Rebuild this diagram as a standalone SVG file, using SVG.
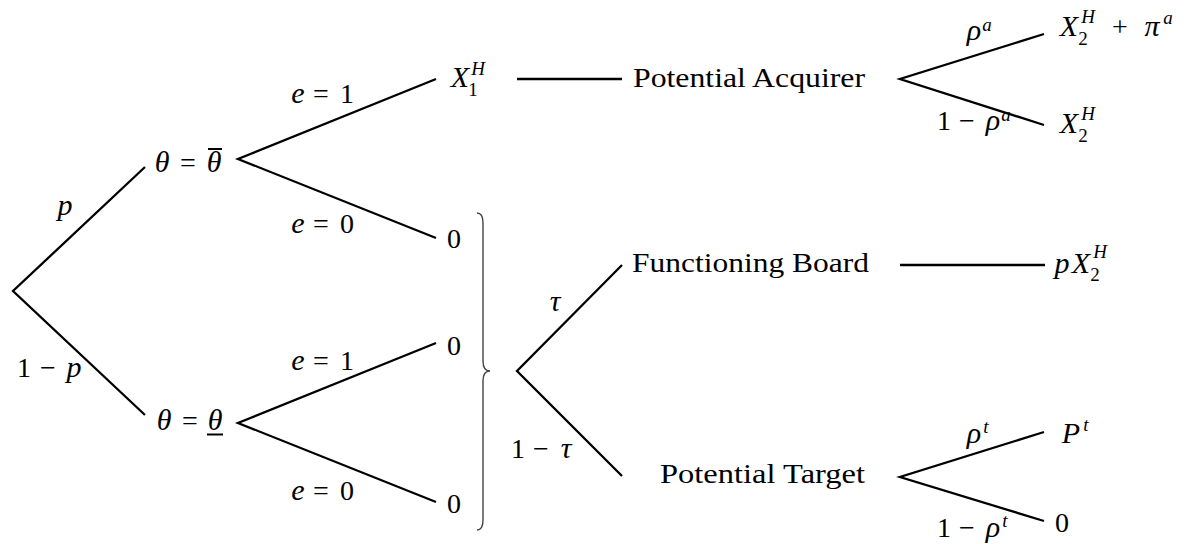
<svg xmlns="http://www.w3.org/2000/svg" width="1193" height="544" viewBox="0 0 1193 544" font-family="'Liberation Serif', 'DejaVu Serif', serif">
<style>
text{font-family:"Liberation Serif","DejaVu Serif",serif;font-size:28px;fill:#000;text-anchor:middle}
.w{text-anchor:start}
.i{font-style:italic;font-size:30px}
.s{font-size:19px}
.edge{fill:none;stroke:#000;stroke-width:2.3}
.brace{fill:none;stroke:#444;stroke-width:1.4}
.bar{stroke:#000;stroke-width:2}
</style>
<rect width="1193" height="544" fill="#fff"/>
<g id="connectors">
<path class="edge" d="M145 167 L13 291 L145 415"/>
<path class="edge" d="M436 79 L238 159 L436 238"/>
<path class="edge" d="M436 343 L238 423 L436 502"/>
<path class="edge" d="M622 265 L517 371 L622 476"/>
<path class="edge" d="M1044 34 L900 79 L1044 125"/>
<path class="edge" d="M1044 432 L900 477 L1044 521"/>
<path class="edge" d="M517 79 L622 79"/>
<path class="edge" d="M900 265 L1045 265"/>
<path class="brace" d="M477 213 Q483 213 483 223 L483 361 Q483 371 490 371 Q483 371 483 381 L483 520 Q483 530 477 530"/>
</g>
<g id="edge-labels">
<text><tspan class="i" x="65" y="215">p</tspan></text>
<text><tspan x="24" y="377">1</tspan><tspan x="48" y="377">−</tspan><tspan class="i" x="74" y="377">p</tspan></text>
<text><tspan class="i" x="298" y="103">e</tspan><tspan x="321" y="103">=</tspan><tspan x="347" y="103">1</tspan></text>
<text><tspan class="i" x="298" y="233">e</tspan><tspan x="321" y="233">=</tspan><tspan x="347" y="233">0</tspan></text>
<text><tspan class="i" x="298" y="370">e</tspan><tspan x="321" y="370">=</tspan><tspan x="347" y="370">1</tspan></text>
<text><tspan class="i" x="298" y="500">e</tspan><tspan x="321" y="500">=</tspan><tspan x="347" y="500">0</tspan></text>
<text><tspan class="i" x="555" y="311">τ</tspan></text>
<text><tspan x="518" y="458">1</tspan><tspan x="541" y="458">−</tspan><tspan class="i" x="566" y="458">τ</tspan></text>
<text><tspan class="i" x="974" y="40">ρ</tspan><tspan class="i s" x="987" y="31">a</tspan></text>
<text><tspan x="944" y="130">1</tspan><tspan x="967" y="130">−</tspan><tspan class="i" x="993" y="130">ρ</tspan><tspan class="i s" x="1006" y="121">a</tspan></text>
<text><tspan class="i" x="974" y="443">ρ</tspan><tspan class="i s" x="986" y="433">t</tspan></text>
<text><tspan x="944" y="537">1</tspan><tspan x="967" y="537">−</tspan><tspan class="i" x="993" y="537">ρ</tspan><tspan class="i s" x="1005" y="527">t</tspan></text>
</g>
<g id="node-theta-high">
<text><tspan class="i" x="162" y="172">θ</tspan><tspan x="188" y="172">=</tspan><tspan class="i" x="214" y="172">θ</tspan></text>
<line class="bar" x1="208" y1="149" x2="222" y2="149"/>
</g>
<g id="node-theta-low">
<text><tspan class="i" x="164" y="430">θ</tspan><tspan x="190" y="430">=</tspan><tspan class="i" x="215" y="430">θ</tspan></text>
<line class="bar" x1="207" y1="434.5" x2="223" y2="434.5"/>
</g>
<g id="node-x1h">
<text><tspan class="i" x="460" y="87">X</tspan><tspan class="i s" x="478" y="75">H</tspan><tspan class="s" x="473" y="96">1</tspan></text>
</g>
<g id="node-zero-1"><text x="454" y="248">0</text></g>
<g id="node-zero-2"><text x="454" y="355">0</text></g>
<g id="node-zero-3"><text x="454" y="513">0</text></g>
<g id="node-acquirer"><text class="w" x="633" y="87" textLength="232" lengthAdjust="spacingAndGlyphs">Potential Acquirer</text></g>
<g id="node-board"><text class="w" x="632" y="272" textLength="237" lengthAdjust="spacingAndGlyphs">Functioning Board</text></g>
<g id="node-target"><text class="w" x="660" y="483" textLength="205" lengthAdjust="spacingAndGlyphs">Potential Target</text></g>
<g id="node-x2h-pi">
<text><tspan class="i" x="1069" y="36">X</tspan><tspan class="i s" x="1088" y="23">H</tspan><tspan class="s" x="1083" y="45">2</tspan><tspan x="1120" y="36">+</tspan><tspan class="i" x="1152" y="36">π</tspan><tspan class="i s" x="1168" y="24">a</tspan></text>
</g>
<g id="node-x2h">
<text><tspan class="i" x="1069" y="133">X</tspan><tspan class="i s" x="1088" y="120">H</tspan><tspan class="s" x="1083" y="142">2</tspan></text>
</g>
<g id="node-px2h">
<text><tspan class="i" x="1062" y="273">p</tspan><tspan class="i" x="1081" y="273">X</tspan><tspan class="i s" x="1100" y="258">H</tspan><tspan class="s" x="1095" y="281">2</tspan></text>
</g>
<g id="node-pt">
<text><tspan class="i" x="1071" y="443">P</tspan><tspan class="i s" x="1086" y="431">t</tspan></text>
</g>
<g id="node-zero-4"><text x="1062" y="532">0</text></g>
</svg>
